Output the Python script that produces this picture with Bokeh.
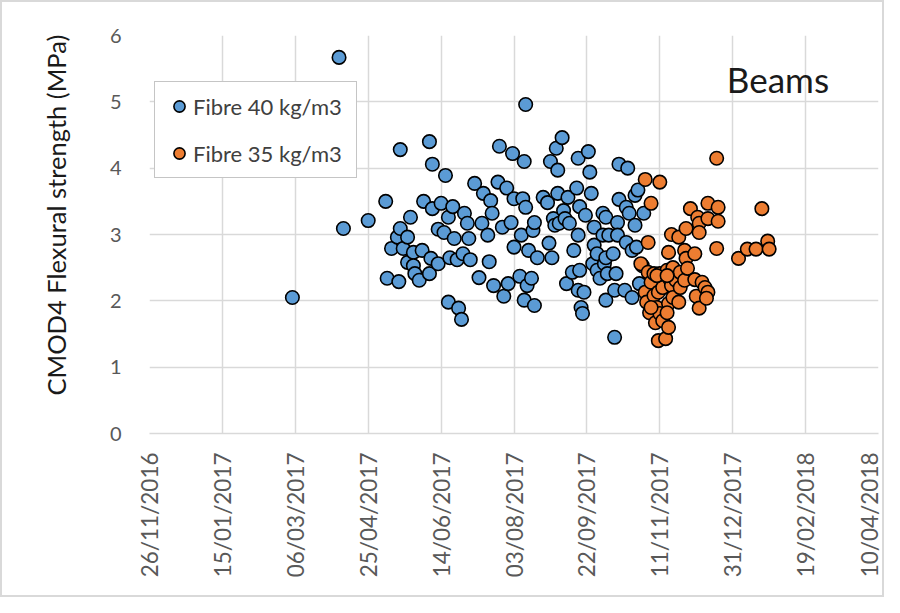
import math
import pandas as pd
from bokeh.plotting import figure
from bokeh.models import (ColumnDataSource, Legend, LegendItem, FixedTicker,
                          Label, Range1d, DatetimeTickFormatter, Title)
from bokeh.embed import file_html
from bokeh.resources import INLINE

# ---------------- data ----------------
x_tick_labels = ["26/11/2016", "15/01/2017", "06/03/2017", "25/04/2017", "14/06/2017",
                 "03/08/2017", "22/09/2017", "11/11/2017", "31/12/2017", "19/02/2018",
                 "10/04/2018"]
y_ticks = [0, 1, 2, 3, 4, 5, 6]
y_title = "CMOD4 Flexural strength (MPa)"

fibre40_dates = [
    "2017-03-04", "2017-04-05", "2017-04-08", "2017-04-25", "2017-05-07", "2017-05-08",
    "2017-05-11", "2017-05-15", "2017-05-16", "2017-05-17", "2017-05-17", "2017-05-19",
    "2017-05-22", "2017-05-22", "2017-05-24", "2017-05-26", "2017-05-26", "2017-05-27",
    "2017-05-30", "2017-06-01", "2017-06-02", "2017-06-06", "2017-06-06", "2017-06-07",
    "2017-06-08", "2017-06-08", "2017-06-12", "2017-06-14", "2017-06-12", "2017-06-16",
    "2017-06-17", "2017-06-19", "2017-06-19", "2017-06-20", "2017-06-22", "2017-06-23",
    "2017-06-25", "2017-06-26", "2017-06-28", "2017-06-30", "2017-06-29", "2017-07-02",
    "2017-07-03", "2017-07-04", "2017-07-07", "2017-07-10", "2017-07-13", "2017-07-12",
    "2017-07-16", "2017-07-17", "2017-07-18", "2017-07-19", "2017-07-20", "2017-07-24",
    "2017-07-23", "2017-07-26", "2017-07-27", "2017-07-29", "2017-07-30", "2017-08-01",
    "2017-08-02", "2017-08-03", "2017-08-03", "2017-08-08", "2017-08-07", "2017-08-09",
    "2017-08-10", "2017-08-11", "2017-08-10", "2017-08-11", "2017-08-12", "2017-08-13",
    "2017-08-16", "2017-08-15", "2017-08-17", "2017-08-17", "2017-08-19", "2017-08-23",
    "2017-08-26", "2017-08-27", "2017-08-28", "2017-08-29", "2017-08-30", "2017-08-31",
    "2017-09-01", "2017-09-02", "2017-09-05", "2017-09-02", "2017-09-03", "2017-09-06",
    "2017-09-07", "2017-09-09", "2017-09-08", "2017-09-10", "2017-09-12", "2017-09-13",
    "2017-09-15", "2017-09-16", "2017-09-17", "2017-09-16", "2017-09-16", "2017-09-17",
    "2017-09-18", "2017-09-19", "2017-09-20", "2017-09-21", "2017-09-23", "2017-09-24",
    "2017-09-25", "2017-09-27", "2017-09-27", "2017-09-26", "2017-09-29", "2017-09-29",
    "2017-10-01", "2017-10-03", "2017-10-03", "2017-10-04", "2017-10-05", "2017-10-05",
    "2017-10-06", "2017-10-05", "2017-10-07", "2017-10-10", "2017-10-11", "2017-10-11",
    "2017-10-12", "2017-10-13", "2017-10-13", "2017-10-14", "2017-10-14", "2017-10-19",
    "2017-10-19", "2017-10-18", "2017-10-20", "2017-10-21", "2017-10-23", "2017-10-23",
    "2017-10-25", "2017-10-25", "2017-10-26", "2017-10-27", "2017-10-28", "2017-10-30",
    "2017-10-31",
]
fibre40_strength = [
    2.05, 5.67, 3.09, 3.21, 3.50, 2.34,
    2.79, 2.96, 2.29, 4.28, 3.09, 2.79,
    2.96, 2.58, 3.26, 2.73, 2.53, 2.41,
    2.31, 2.76, 3.50, 4.40, 2.41, 2.64,
    4.06, 3.39, 2.56, 3.47, 3.08, 3.03,
    3.89, 3.26, 1.98, 2.65, 3.42, 2.94,
    2.62, 1.89, 1.72, 3.32, 2.71, 3.17,
    2.94, 2.62, 3.77, 2.35, 3.62, 3.17,
    2.99, 2.59, 3.51, 3.32, 2.23, 4.33,
    3.79, 3.11, 2.07, 3.70, 2.26, 3.18,
    4.22, 3.54, 2.81, 2.99, 2.37, 3.54,
    4.10, 3.41, 2.01, 4.96, 2.23, 2.76,
    3.06, 2.34, 3.18, 1.93, 2.65, 3.56,
    3.48, 2.87, 4.10, 2.65, 3.24, 3.14,
    4.30, 3.62, 4.46, 3.97, 3.17, 3.36,
    3.24, 3.56, 2.26, 3.17, 2.43, 2.76,
    3.70, 4.15, 3.42, 2.99, 2.16, 2.46,
    1.90, 1.81, 2.13, 3.29, 4.25, 3.94,
    3.62, 3.11, 2.84, 2.56, 2.71, 2.46,
    2.34, 3.32, 2.99, 2.56, 3.26, 2.65,
    2.41, 2.01, 2.99, 2.71, 2.16, 1.45,
    2.41, 3.18, 2.99, 4.06, 3.53, 3.41,
    2.88, 2.16, 4.00, 3.32, 2.76, 2.05,
    3.59, 3.14, 2.81, 3.67, 2.26, 2.53,
    3.32,
]

fibre35_dates = [
    "2017-10-29", "2017-11-01", "2017-11-01", "2017-11-03", "2017-11-03", "2017-11-02",
    "2017-11-05", "2017-11-05", "2017-11-04", "2017-11-07", "2017-11-07", "2017-11-08",
    "2017-11-09", "2017-11-11", "2017-11-11", "2017-11-10", "2017-11-11", "2017-11-10",
    "2017-11-13", "2017-11-13", "2017-11-15", "2017-11-16", "2017-11-17", "2017-11-17",
    "2017-11-16", "2017-11-17", "2017-11-19", "2017-11-18", "2017-11-19", "2017-11-20",
    "2017-11-20", "2017-11-22", "2017-11-24", "2017-11-24", "2017-11-25", "2017-11-25",
    "2017-11-29", "2017-11-28", "2017-11-29", "2017-11-28", "2017-11-30", "2017-12-02",
    "2017-12-05", "2017-12-05", "2017-12-06", "2017-12-07", "2017-12-08", "2017-12-08",
    "2017-12-08", "2017-12-10", "2017-12-12", "2017-12-14", "2017-12-14", "2017-12-14",
    "2017-12-13", "2017-12-20", "2017-12-20", "2017-12-21", "2017-12-21", "2018-01-04",
    "2018-01-10", "2018-01-16", "2018-01-20", "2018-01-24", "2018-01-25", "2017-11-05",
    "2017-11-09", "2017-11-16",
]
fibre35_strength = [
    2.56, 3.83, 2.13, 2.88, 2.43, 1.98,
    3.47, 2.28, 1.82, 2.41, 2.08, 1.67,
    1.90, 3.79, 2.41, 2.13, 1.81, 1.40,
    2.20, 1.70, 1.43, 2.46, 2.73, 1.96,
    1.82, 1.60, 3.00, 2.32, 2.23, 2.05,
    2.50, 2.31, 2.96, 1.98, 2.43, 2.20,
    3.09, 2.76, 2.64, 2.31, 2.49, 3.39,
    2.71, 2.32, 2.07, 3.26, 3.17, 3.03,
    1.89, 2.28, 2.20, 3.47, 3.24, 2.13,
    2.04, 4.15, 2.79, 3.41, 3.20, 2.64,
    2.78, 2.78, 3.39, 2.90, 2.78, 1.90,
    2.38, 2.38,
]

# ---------------- styling ----------------
FONT = "Lato"
BLUE = "#5B9BD5"
ORANGE = "#ED7D31"
GRID = "#d9d9d9"

tick_ts = pd.to_datetime(x_tick_labels, dayfirst=True)
tick_ms = [int(t.value // 10**6) for t in tick_ts]

src40 = ColumnDataSource(dict(date=pd.to_datetime(fibre40_dates), strength=fibre40_strength))
src35 = ColumnDataSource(dict(date=pd.to_datetime(fibre35_dates), strength=fibre35_strength))

p = figure(width=884, height=597, x_axis_type="datetime",
           output_backend="svg", toolbar_location=None,
           x_range=Range1d(tick_ms[0], tick_ms[-1]), y_range=Range1d(0, 6),
           min_border_left=146, min_border_right=8, min_border_top=33, min_border_bottom=166)
p.styles = {"border": "2px solid #d9d9d9"}
p.outline_line_color = None
p.background_fill_color = "white"
p.border_fill_color = "white"

r40 = p.scatter("date", "strength", source=src40, size=13.5, fill_color=BLUE,
                line_color="black", line_width=1.6)
r35 = p.scatter("date", "strength", source=src35, size=13.5, fill_color=ORANGE,
                line_color="black", line_width=1.6)

# x axis
fmt = "%d/%m/%Y"
xa = p.xaxis[0]
xa.ticker = FixedTicker(ticks=tick_ms)
xa.formatter = DatetimeTickFormatter(milliseconds=fmt, seconds=fmt, minsec=fmt, minutes=fmt,
                                     hourmin=fmt, hours=fmt, days=fmt, months=fmt, years=fmt)
xa.major_label_orientation = math.pi / 2
xa.major_label_text_font = FONT
xa.major_label_text_font_size = "22.5px"
xa.major_label_text_color = "#595959"
xa.major_label_standoff = 13
xa.axis_line_color = GRID
xa.axis_line_width = 1.5
xa.major_tick_line_color = None
xa.minor_tick_line_color = None

# y axis
ya = p.yaxis[0]
ya.ticker = FixedTicker(ticks=y_ticks)
ya.major_label_text_font = FONT
ya.major_label_text_font_size = "20px"
ya.major_label_text_color = "#595959"
ya.major_label_standoff = 22
ya.axis_line_color = None
ya.major_tick_line_color = None
ya.minor_tick_line_color = None

p.xgrid.grid_line_color = GRID
p.xgrid.grid_line_width = 1.5
p.ygrid.grid_line_color = GRID
p.ygrid.grid_line_width = 1.5

# y-axis title as a side title (sits a little above the frame centre, as in the original)
ytitle = Title(text=y_title, align="left", offset=38, standoff=72,
               text_font=FONT, text_font_size="25.5px", text_font_style="normal",
               text_color="#1a1a1a")
p.add_layout(ytitle, "left")

legend = Legend(items=[LegendItem(label="Fibre 40 kg/m3", renderers=[r40]),
                       LegendItem(label="Fibre 35 kg/m3", renderers=[r35])],
                location=(5, 255), orientation="vertical",
                border_line_color="#8c8c8c", border_line_width=1.5,
                background_fill_color="white", background_fill_alpha=1.0,
                padding=10, spacing=19, margin=0,
                glyph_width=28, glyph_height=28, label_standoff=0,
                label_width=153, label_height=28,
                label_text_font=FONT, label_text_font_size="22px",
                label_text_color="#404040", label_text_baseline="middle")
p.add_layout(legend)

beams = Label(x=int(pd.Timestamp("2017-12-27").value // 10**6), y=5.35, text="Beams",
              text_font=FONT, text_font_size="35px", text_color="#1a1a1a",
              text_baseline="middle", text_align="left")
p.add_layout(beams)

open("out.html", "w").write(file_html(p, INLINE))
